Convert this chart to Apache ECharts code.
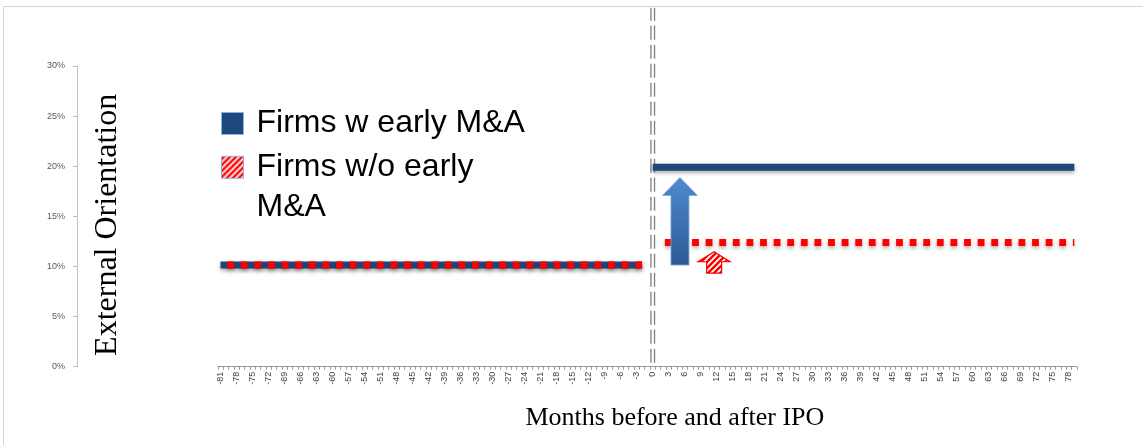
<!DOCTYPE html>
<html>
<head>
<meta charset="utf-8">
<script src="https://cdn.jsdelivr.net/npm/echarts@6/dist/echarts.min.js"></script>
<style>
  html, body { margin: 0; padding: 0; background: #fff; }
  #chart { width: 1143px; height: 445px; }
</style>
</head>
<body>
<div id="chart"></div>
<script>
// Month categories relative to the IPO month (0)
const months = [
  '-81','-80','-79','-78','-77','-76','-75','-74','-73','-72','-71','-70','-69','-68','-67','-66',
  '-65','-64','-63','-62','-61','-60','-59','-58','-57','-56','-55','-54','-53','-52','-51','-50',
  '-49','-48','-47','-46','-45','-44','-43','-42','-41','-40','-39','-38','-37','-36','-35','-34',
  '-33','-32','-31','-30','-29','-28','-27','-26','-25','-24','-23','-22','-21','-20','-19','-18',
  '-17','-16','-15','-14','-13','-12','-11','-10','-9','-8','-7','-6','-5','-4','-3','-2','-1',
  '0','1','2','3','4','5','6','7','8','9','10','11','12','13','14','15','16','17','18','19','20',
  '21','22','23','24','25','26','27','28','29','30','31','32','33','34','35','36','37','38','39','40',
  '41','42','43','44','45','46','47','48','49','50','51','52','53','54','55','56','57','58','59','60',
  '61','62','63','64','65','66','67','68','69','70','71','72','73','74','75','76','77','78','79'
];

// Segment endpoints [month, share]; '-' breaks the line at the IPO
const withEarlyMA    = [['-81', 0.1015], ['-2', 0.1015], ['-1', '-'], ['0', 0.199], ['79', 0.199]];
const withoutEarlyMA = [['-81', 0.1015], ['-1', 0.1015], ['0', '-'], ['1', 0.1238], ['79', 0.1238]];

// IPO marker: [month, bottom, top]
const ipoMarker = [['0', 0.004, 0.358]];

// Shift arrows: [month, base, tip, position in months, kind]
const shiftArrows = [
  ['5', 0.1014, 0.1888, 5.1, 'with'],
  ['11', 0.0934, 0.1147, 11.5, 'without']
];

const SERIES_W = 'Firms w early M&A';
const SERIES_WO = 'Firms w/o early M&A';

// Red/white diagonal hatch used for the "without" group
function hatchCanvas() {
  const c = document.createElement('canvas');
  c.width = 6; c.height = 6;
  const g = c.getContext('2d');
  g.fillStyle = '#ff0000';
  g.fillRect(0, 0, 6, 6);
  g.strokeStyle = '#ffffff';
  g.lineWidth = 1.8;
  g.beginPath();
  g.moveTo(-1, 7); g.lineTo(7, -1);
  g.moveTo(-4, 4); g.lineTo(4, -4);
  g.moveTo(2, 10); g.lineTo(10, 2);
  g.stroke();
  return c;
}
const hatch = { image: hatchCanvas(), repeat: 'repeat' };

const chart = echarts.init(document.getElementById('chart'), null, { renderer: 'canvas' });

const lineShadow = { shadowColor: 'rgba(0,0,0,0.35)', shadowBlur: 4, shadowOffsetY: 2 };
const legendText = { fontFamily: 'Liberation Sans', fontSize: 32, color: '#000', lineHeight: 40, padding: [0, 0, 0, 8] };

chart.setOption({
  animation: false,
  backgroundColor: '#ffffff',
  grid: { left: 217.8, right: 66, top: 66, bottom: 78.3, containLabel: false },
  legend: [
    {
      left: 221, top: 103.5, padding: 0, orient: 'vertical',
      itemWidth: 22, itemHeight: 22, selectedMode: false,
      data: [{ name: SERIES_W, icon: 'rect',
               itemStyle: { color: '#1f497d', borderColor: '#8db3e2', borderWidth: 1 } }],
      textStyle: legendText
    },
    {
      // leading blank line keeps the icon level with the first text line
      left: 221, top: 107.3, padding: 0, orient: 'vertical',
      itemWidth: 22, itemHeight: 22, selectedMode: false,
      data: [{ name: SERIES_WO, icon: 'rect',
               itemStyle: { color: hatch, borderColor: '#8db3e2', borderWidth: 1 } }],
      formatter: () => '\nFirms w/o early\nM&A',
      textStyle: legendText
    }
  ],
  xAxis: {
    type: 'category',
    data: months,
    boundaryGap: true,
    axisLine: { show: true, lineStyle: { color: '#9a9a9a', width: 1 } },
    axisTick: { show: true, interval: 0, length: 3, lineStyle: { color: '#9a9a9a' } },
    axisLabel: { interval: 2, rotate: 90, fontSize: 9, color: '#404040', margin: 5, fontFamily: 'Liberation Sans' },
    splitLine: { show: false },
    name: 'Months before and after IPO',
    nameLocation: 'middle',
    nameGap: 38,
    nameTextStyle: { fontFamily: 'Liberation Serif', fontSize: 26, color: '#000', padding: [0, 0, 0, 55] }
  },
  yAxis: {
    type: 'value',
    min: 0, max: 0.3, interval: 0.05,
    position: 'left',
    offset: 140.8,
    axisLine: { show: true, lineStyle: { color: '#bfbfbf' } },
    axisTick: { show: true, length: 4, lineStyle: { color: '#bfbfbf' } },
    axisLabel: { formatter: v => Math.round(v * 100) + '%', fontSize: 9, color: '#595959', margin: 12, fontFamily: 'Liberation Sans' },
    splitLine: { show: false },
    name: 'External Orientation',
    nameLocation: 'middle',
    nameRotate: 90,
    nameGap: -47,
    nameTextStyle: { fontFamily: 'Liberation Serif', fontSize: 32, color: '#000', padding: [0, 17, 0, 0] }
  },
  graphic: [
    { type: 'polyline', silent: true, shape: { points: [[3.5, 445], [3.5, 6.5], [1143, 6.5]] },
      style: { stroke: '#d4d4d4', lineWidth: 1, fill: null } }
  ],
  series: [
    {
      name: SERIES_W, type: 'line', data: withEarlyMA,
      symbol: 'none', showSymbol: false, connectNulls: false, z: 3,
      itemStyle: { color: '#1f497d' },
      lineStyle: Object.assign({ color: '#1f497d', width: 7, cap: 'butt' }, lineShadow)
    },
    {
      name: SERIES_WO, type: 'line', data: withoutEarlyMA,
      symbol: 'none', showSymbol: false, connectNulls: false, z: 4,
      itemStyle: { color: '#ff0000' },
      lineStyle: Object.assign({ color: '#ff0000', width: 7, type: [6.8, 6.8], dashOffset: 6.8, cap: 'butt' }, lineShadow)
    },
    {
      name: 'IPO', type: 'custom', silent: true, z: 2, clip: false,
      data: ipoMarker,
      encode: { x: 0, y: [1, 2] },
      renderItem: function (params, api) {
        const p1 = api.coord([api.value(0), api.value(1)]);
        const p2 = api.coord([api.value(0), api.value(2)]);
        const style = { stroke: '#7f7f7f', lineWidth: 1.3, lineDash: [14, 5], fill: null };
        return {
          type: 'group',
          children: [-1.8, 1.8].map(dx => ({
            type: 'line',
            shape: { x1: p1[0] + dx, y1: p1[1], x2: p2[0] + dx, y2: p2[1] },
            style: style
          }))
        };
      }
    },
    {
      name: 'Shift', type: 'custom', silent: true, z: 6, clip: false,
      data: shiftArrows,
      dimensions: ['month', 'base', 'tip', 'pos', 'kind'],
      encode: { x: 0, y: [1, 2] },
      renderItem: function (params, api) {
        const pos = api.value(3);
        const whole = Math.floor(pos);
        const band = api.size([1, 0])[0];
        const idx = months.indexOf(String(whole));
        const x = api.coord([idx, 0])[0] + (pos - whole) * band;
        const tipY = api.coord([idx, api.value(2)])[1];
        const baseY = api.coord([idx, api.value(1)])[1];
        const isWith = api.value(4) === 'with';
        const hh = isWith ? 17.5 : 16;
        const hs = isWith ? 9 : 7.5;
        const hl = isWith ? 18 : 10;
        const pts = [
          [x, tipY], [x + hh, tipY + hl], [x + hs, tipY + hl], [x + hs, baseY],
          [x - hs, baseY], [x - hs, tipY + hl], [x - hh, tipY + hl]
        ];
        const fill = isWith
          ? new echarts.graphic.LinearGradient(0, 0, 0, 1, [
              { offset: 0, color: '#4f8ad1' }, { offset: 1, color: '#2b5a93' }])
          : hatch;
        return {
          type: 'polygon',
          shape: { points: pts },
          style: { fill: fill, stroke: isWith ? '#7aa6dc' : '#ff0000', lineWidth: isWith ? 0.8 : 1.2 }
        };
      }
    }
  ]
});
</script>
</body>
</html>
